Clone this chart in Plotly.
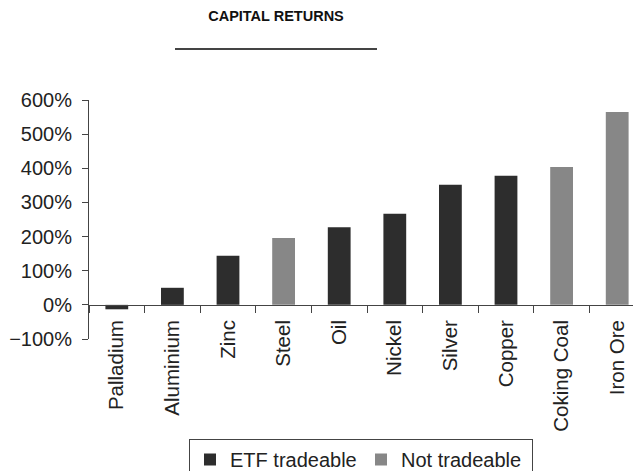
import plotly.graph_objects as go

categories = ["Palladium", "Aluminium", "Zinc", "Steel", "Oil", "Nickel",
              "Silver", "Copper", "Coking Coal", "Iron Ore"]
etf_tradeable = [-13, 50, 144, None, 227, 267, 352, 378, None, None]
not_tradeable = [None, None, None, 196, None, None, None, None, 404, 565]
y_ticks = [-100, 0, 100, 200, 300, 400, 500, 600]
y_tick_labels = [("\u2212" if v < 0 else "") + f"{abs(v)}%" for v in y_ticks]

FONT = "Liberation Sans, Arial, Helvetica, sans-serif"
TXT = "#222222"
AX = "#444444"

fig = go.Figure()
fig.add_bar(x=categories, y=etf_tradeable, name="ETF tradeable",
            marker=dict(color="#2d2d2d", line=dict(width=0)), width=0.41)
fig.add_bar(x=categories, y=not_tradeable, name="Not tradeable",
            marker=dict(color="#878787", line=dict(width=0)), width=0.41)

# page has an 8px body margin; figure coords = page coords - 8
OFF = 8
W, H = 641 - OFF, 471 - OFF
L, R, T = 89 - OFF, 0, 100 - OFF
B = H - (339 - OFF)
pw = W - L - R
ph = H - T - B


def px_x(p):
    return (p - OFF - L) / pw


def px_y(p):
    return (H - B - (p - OFF)) / ph


fig.update_layout(
    width=W, height=H,
    margin=dict(l=L, r=R, t=T, b=B, autoexpand=False),
    paper_bgcolor="white", plot_bgcolor="white",
    barmode="overlay",
    font=dict(family=FONT, color=TXT, size=20),
    title=dict(text="<b>CAPITAL RETURNS</b>", x=(276 - OFF) / W, xref="container",
               xanchor="center", y=1 - (16 - OFF) / H, yref="container", yanchor="middle",
               font=dict(family=FONT, size=14.5, color="#111111")),
    legend=dict(orientation="h", x=px_x(361), xanchor="center",
                y=px_y(439), yanchor="top", entrywidth=126,
                bordercolor=AX, borderwidth=1, bgcolor="white",
                font=dict(size=20, color=TXT), traceorder="normal"),
    showlegend=True,
)
fig.update_xaxes(
    type="category", range=[-0.5, -0.5 + pw / 55.6],
    anchor="free", position=1 / 7,
    showline=True, linecolor=AX, linewidth=1,
    ticks="outside", tickson="boundaries", ticklen=7, tickcolor=AX,
    tickangle=-90, showgrid=False, ticklabelstandoff=6,
    tickfont=dict(size=20.5, color=TXT),
)
fig.update_yaxes(
    range=[-100, 600], tickvals=y_ticks, ticktext=y_tick_labels,
    showline=True, linecolor=AX, linewidth=1,
    ticks="outside", ticklen=6, tickcolor=AX,
    showgrid=False, zeroline=False, ticklabelstandoff=6,
    tickfont=dict(size=20, color=TXT),
)
fig.add_shape(type="line", xref="paper", yref="paper",
              x0=px_x(175), x1=px_x(377), y0=px_y(49), y1=px_y(49),
              line=dict(color="#444444", width=2))

fig.write_html("out.html")
